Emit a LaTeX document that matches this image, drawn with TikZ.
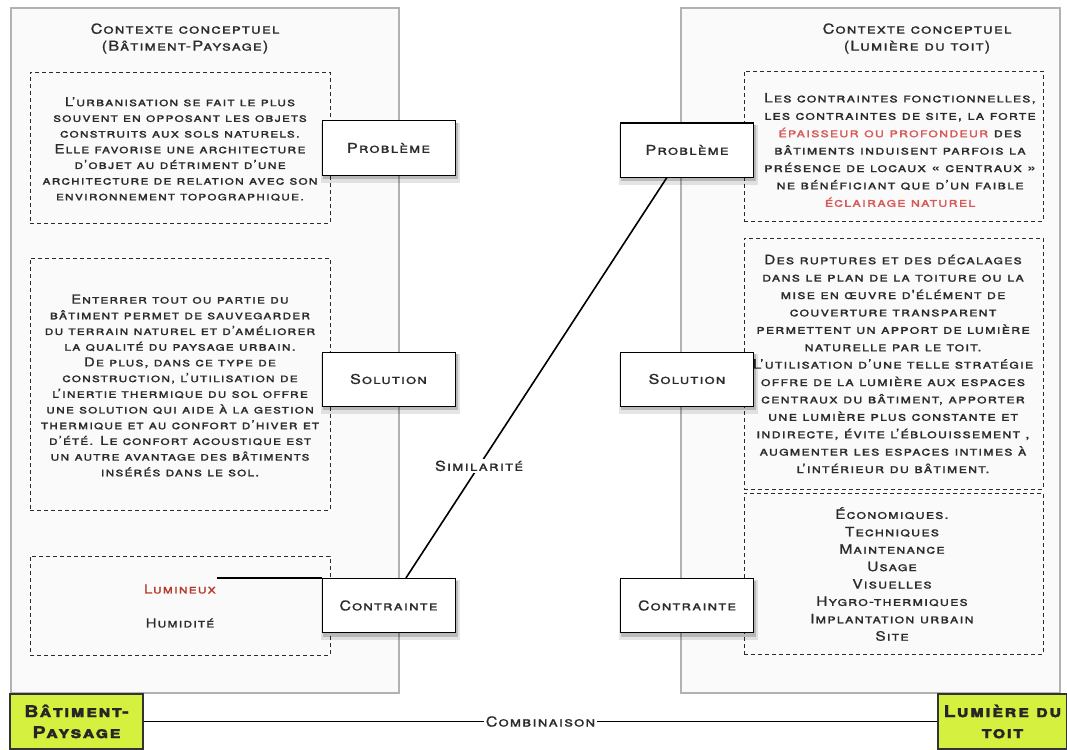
\documentclass[tikz,border=0pt]{standalone}
\usepackage{fontspec}
\setmainfont{TeX Gyre Heros}
\newfontfamily\cfont{TeX Gyre Heros}[Letters=SmallCaps, LetterSpace=8, FakeStretch=1.2, FakeBold=1]
\usetikzlibrary{calc}
\definecolor{txt}{HTML}{2B2B2B}
\definecolor{redA}{HTML}{B5392A}
\definecolor{redB}{HTML}{D65A5A}
\definecolor{lime}{RGB}{214,240,64}
\tikzset{
  panel/.style={draw=gray!60, line width=1.2pt, fill=gray!4},
  dbox/.style={draw=txt, dash pattern=on 4pt off 3pt, line width=0.9pt, minimum width=300pt, inner sep=0pt},
  shA/.style={fill=black, fill opacity=0.10, draw=none, inner sep=0pt, minimum width=139pt, minimum height=60pt},
  shB/.style={fill=black, fill opacity=0.18, draw=none, inner sep=0pt, minimum width=135pt, minimum height=56pt},
  lbl/.style={draw=black, fill=white, line width=1pt, minimum width=133pt, minimum height=54pt,
    font=\cfont\fontsize{13.5}{15}\selectfont, text=txt},
  body/.style={align=center, text=txt, font=\cfont\fontsize{12.4}{15.7}\selectfont, inner sep=1pt},
  bodyR/.style={align=center, text=txt, font=\cfont\fontsize{12.9}{17.4}\selectfont, inner sep=1pt},
  ttl/.style={align=center, text=txt, font=\cfont\fontsize{13.7}{17}\selectfont},
  green/.style={draw=black!80, fill=lime, line width=1.2pt, minimum height=55pt, align=center,
    font=\cfont\bfseries\fontsize{16.5}{21}\selectfont, text=black!85},
  conn/.style={draw=black, line width=1.6pt},
  clab/.style={fill=white, inner sep=2pt, text=txt, font=\cfont\fontsize{13.7}{15}\selectfont}
}
\newcommand\mylbl[3]{%
  \node[shA] (#1-sa) at ($(#2)+(1.5,4.5)$) {};
  \node[shB] (#1-sb) at ($(#2)+(1.5,3)$) {};
  \node[lbl] (#1) at (#2) {#3};}
\begin{document}
\begin{tikzpicture}[x=1pt,y=-1pt]
\useasboundingbox (0,0) rectangle (1067,749);
\fill[white] (0,0) rectangle (1067,749);
% panels
\draw[panel] (11,8) rectangle (399,693);
\draw[panel] (681,8) rectangle (1060,693);
% titles
\node[ttl] (tL) at (185,38.5) {Contexte conceptuel\\(Bâtiment-Paysage)};
\node[ttl] (tR) at (917,38.5) {Contexte conceptuel\\(Lumière du toit)};
% left dashed boxes
\node[dbox, minimum height=151pt] (bL1) at (180,147.5) {};
\node[body] (xL1) at (180,149) {L’urbanisation se fait le plus\\souvent en opposant les objets\\construits aux sols naturels.\\Elle favorise une architecture\\d’objet au détriment d’une\\architecture de relation avec son\\environnement topographique.};
\node[dbox, minimum height=252pt] (bL2) at (180,384) {};
\node[body] (xL2) at (180,385.5) {Enterrer tout ou partie du\\bâtiment permet de sauvegarder\\du terrain naturel et d’améliorer\\la qualité du paysage urbain.\\De plus, dans ce type de\\construction, l’utilisation de\\l’inertie thermique du sol offre\\une solution qui aide à la gestion\\thermique et au confort d’hiver et\\d’été. Le confort acoustique est\\un autre avantage des bâtiments\\insérés dans le sol.};
\node[dbox, minimum height=99pt] (bL3) at (180,605.5) {};
\node[body, text=redA] (lum) at (180,589) {Lumineux};
\node[body] (hum) at (180,623) {Humidité};
% right dashed boxes
\node[dbox, minimum width=299pt, minimum height=150pt] (bR1) at (893.5,146) {};
\node[bodyR] (xR1) at (900,150) {Les contraintes fonctionnelles,\\les contraintes de site, la forte\\\textcolor{redB}{épaisseur ou profondeur} des\\bâtiments induisent parfois la\\présence de locaux « centraux »\\ne bénéficiant que d’un faible\\\textcolor{redB}{éclairage naturel}};
\node[dbox, minimum width=299pt, minimum height=251pt] (bR2) at (893.5,363.5) {};
\node[bodyR] (xR2) at (893,364) {Des ruptures et des décalages\\dans le plan de la toiture ou la\\mise en œuvre d'élément de\\couverture transparent\\permettent un apport de lumière\\naturelle par le toit.\\L’utilisation d’une telle stratégie\\offre de la lumière aux espaces\\centraux du bâtiment, apporter\\une lumière plus constante et\\indirecte, évite l’éblouissement ,\\augmenter les espaces intimes à\\l’intérieur du bâtiment.};
\node[dbox, minimum width=299pt, minimum height=161pt] (bR3) at (893.5,573.5) {};
\node[bodyR] (xR3) at (892,574) {Économiques.\\Techniques\\Maintenance\\Usage\\Visuelles\\Hygro-thermiques\\Implantation urbain\\Site};
% label boxes
\mylbl{pL}{388.5,148}{Problème}
\mylbl{sL}{388.5,379}{Solution}
\mylbl{cL}{388.5,605.5}{Contrainte}
\mylbl{pR}{687,150}{Problème}
\mylbl{sR}{687,379}{Solution}
\mylbl{cR}{687,605.5}{Contrainte}
% connectors
\draw[conn] (lum.east |- cL.north) -- (cL.north west);
\draw[conn] ($(cL.north west)!0.63!(cL.north east)$) -- node[clab, pos=0.28] (sim) {Similarité} ($(pR.south west)!0.35!(pR.south east)$);
% bottom
\node[green, minimum width=133pt] (gL) at (76.5,721.5) {Bâtiment-\\Paysage};
\node[green, minimum width=129pt] (gR) at (1002.5,721.5) {Lumière du\\toit};
\draw[line width=1.2pt] (gL.east) -- node[clab] (comb) {Combinaison} (gR.west);
\end{tikzpicture}
\end{document}
